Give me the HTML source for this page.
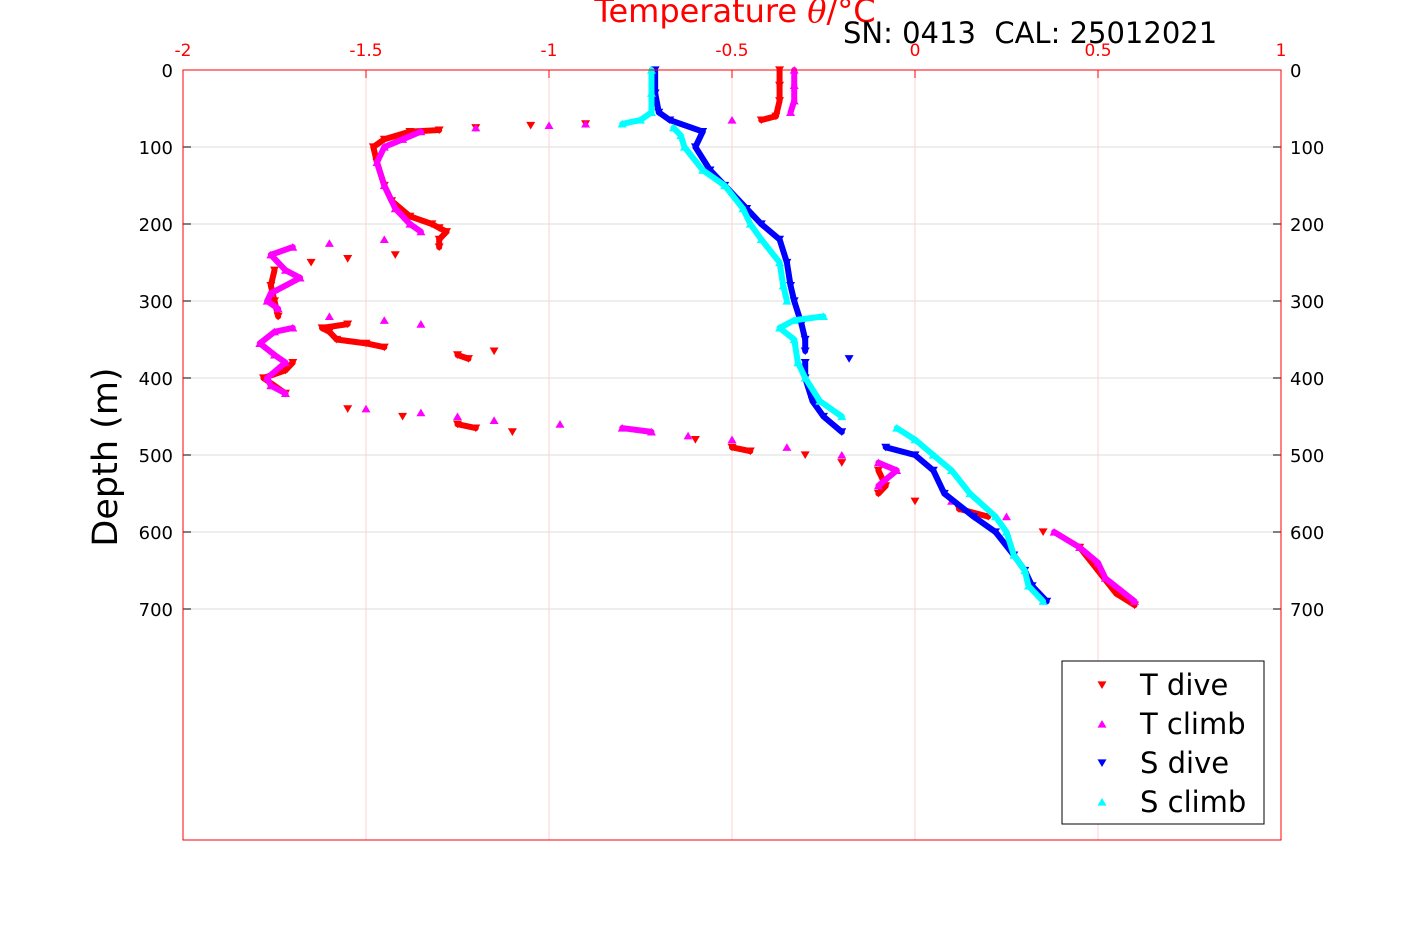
<!DOCTYPE html>
<html><head><meta charset="utf-8"><style>
body{margin:0;background:#fff;}
svg{display:block;font-family:"DejaVu Sans","Liberation Sans",sans-serif;}
</style></head><body>
<svg id="chart" width="1417" height="945" viewBox="0 0 1417 945" xmlns="http://www.w3.org/2000/svg">
<rect width="1417" height="945" fill="#fff"/>
<g id="grid"></g>
<g id="series"></g>
<g id="axes"></g>
<text x="735" y="22" font-size="32" fill="#ff0000" text-anchor="middle">Temperature <tspan font-style="italic" font-family="DejaVu Serif, serif">θ</tspan>/°C</text>
<text x="843" y="43" font-size="29" fill="#000" style="white-space:pre">SN: 0413  CAL: 25012021</text>
<text transform="translate(117,457) rotate(-90)" font-size="35" fill="#000" text-anchor="middle">Depth (m)</text>
<g id="legend"></g>
</svg>
<script>
const xTicks=[-2,-1.5,-1,-0.5,0,0.5,1];
const xTickLabels=["-2","-1.5","-1","-0.5","0","0.5","1"];
const yTicks=[0,100,200,300,400,500,600,700];
const tDiveDepth=[0,20,40,60,65,70,72,75,78,80,90,100,120,150,170,190,200,205,210,220,230,240,245,250,260,280,300,320,330,335,340,350,355,360,365,370,375,380,390,400,420,440,450,460,465,470,480,490,495,500,510,520,540,550,560,570,580,600,620,650,680,695];
const tDiveTemp=[-0.37,-0.37,-0.37,-0.38,-0.42,-0.9,-1.05,-1.2,-1.3,-1.38,-1.45,-1.48,-1.47,-1.45,-1.43,-1.38,-1.32,-1.3,-1.28,-1.3,-1.3,-1.42,-1.55,-1.65,-1.75,-1.76,-1.75,-1.74,-1.55,-1.62,-1.6,-1.58,-1.5,-1.45,-1.15,-1.25,-1.22,-1.7,-1.72,-1.78,-1.72,-1.55,-1.4,-1.25,-1.2,-1.1,-0.6,-0.5,-0.45,-0.3,-0.2,-0.1,-0.08,-0.1,0.0,0.12,0.2,0.35,0.45,0.5,0.55,0.6];
const tClimbDepth=[0,20,40,55,65,70,72,75,80,90,100,120,150,180,200,210,220,225,230,240,260,270,290,300,310,320,325,330,335,340,355,370,380,400,410,420,440,445,450,455,460,465,470,475,480,490,500,510,520,540,560,580,600,620,640,660,690];
const tClimbTemp=[-0.33,-0.33,-0.33,-0.34,-0.5,-0.9,-1.0,-1.2,-1.35,-1.4,-1.45,-1.47,-1.45,-1.42,-1.38,-1.35,-1.45,-1.6,-1.7,-1.76,-1.72,-1.68,-1.76,-1.77,-1.74,-1.6,-1.45,-1.35,-1.7,-1.75,-1.79,-1.75,-1.72,-1.77,-1.76,-1.72,-1.5,-1.35,-1.25,-1.15,-0.97,-0.8,-0.72,-0.62,-0.5,-0.35,-0.2,-0.1,-0.05,-0.1,0.1,0.25,0.38,0.45,0.5,0.52,0.6];
const sDiveDepth=[0,30,55,65,80,100,130,150,180,200,220,250,280,300,330,350,365,375,380,400,430,450,470,490,500,520,550,580,600,630,650,670,690];
const sDiveVal=[-0.71,-0.71,-0.7,-0.67,-0.58,-0.6,-0.56,-0.52,-0.46,-0.42,-0.37,-0.35,-0.34,-0.33,-0.31,-0.3,-0.3,-0.18,-0.3,-0.3,-0.28,-0.25,-0.2,-0.08,0.0,0.05,0.08,0.16,0.22,0.27,0.3,0.32,0.36];
const sClimbDepth=[0,30,55,65,70,75,85,100,130,150,180,200,220,250,280,300,320,325,335,350,380,400,430,450,465,480,500,520,550,580,600,630,650,670,690];
const sClimbVal=[-0.72,-0.72,-0.72,-0.75,-0.8,-0.66,-0.64,-0.63,-0.58,-0.52,-0.47,-0.45,-0.42,-0.37,-0.36,-0.35,-0.25,-0.33,-0.37,-0.33,-0.32,-0.3,-0.26,-0.2,-0.05,0.0,0.05,0.1,0.15,0.22,0.25,0.27,0.3,0.31,0.35];

const L=183,R=1281,T=70,B=840;
const xs=v=>L+(v-(-2))/3*(R-L);
const ys=d=>T+d/1000*(B-T);
const NS="http://www.w3.org/2000/svg";
function mk(tag,parent,attrs){const e=document.createElementNS(NS,tag);for(const k in attrs)e.setAttribute(k,attrs[k]);parent.appendChild(e);return e;}
const grid=document.getElementById('grid'),axes=document.getElementById('axes'),series=document.getElementById('series'),legend=document.getElementById('legend');
xTicks.forEach((v,i)=>{
  if(i>0&&i<xTicks.length-1){const g=mk('line',grid,{x1:xs(v),x2:xs(v),y1:T,y2:B,stroke:'#ffd0d0','stroke-width':1});
  
  }
  const t=mk('text',axes,{x:xs(v),y:T-14,'font-size':17,fill:'#ff0000','text-anchor':'middle'});
  t.textContent=xTickLabels[i];
  
  
  mk('line',axes,{x1:xs(v),x2:xs(v),y1:T,y2:T+8,stroke:'#ff0000'});
});
yTicks.forEach(v=>{
  if(v>0){const g=mk('line',grid,{x1:L,x2:R,y1:ys(v),y2:ys(v),stroke:'#dddddd','stroke-width':1});
  
  }
  const t=mk('text',axes,{x:L-10,y:ys(v)+7,'font-size':18,fill:'#000','text-anchor':'end'});t.textContent=v;
  
  
  const t2=mk('text',axes,{x:R+9,y:ys(v)+7,'font-size':18,fill:'#000'});t2.textContent=v;
  
  
  mk('line',axes,{x1:L,x2:L+8,y1:ys(v),y2:ys(v),stroke:'#000'});
  mk('line',axes,{x1:R-8,x2:R,y1:ys(v),y2:ys(v),stroke:'#000'});
});
const frame=mk('rect',axes,{x:L,y:T,width:R-L,height:B-T,fill:'none',stroke:'#ff0000','stroke-width':1});


function tri(x,y,down,s){return down?`${x-s},${y-s*0.8} ${x+s},${y-s*0.8} ${x},${y+s*0.9}`:`${x-s},${y+s*0.8} ${x+s},${y+s*0.8} ${x},${y-s*0.9}`;}
function draw(depths,vals,color,down,name){
  const g=mk('g',series,{});
  
  
  for(let i=1;i<depths.length;i++){
    const x1=xs(vals[i-1]),x2=xs(vals[i]),y1=ys(depths[i-1]),y2=ys(depths[i]);
    if(Math.abs(x2-x1)<35) mk('line',g,{x1:x1,y1:y1,x2:x2,y2:y2,stroke:color,'stroke-width':6,'stroke-linecap':'round'});
  }
  depths.forEach((d,i)=>{const p=mk('polygon',g,{points:tri(xs(vals[i]),ys(d),down,4.5),fill:color});
  
  });
}
draw(tDiveDepth,tDiveTemp,'#ff0000',true,'t-dive-series');
draw(tClimbDepth,tClimbTemp,'#ff00ff',false,'t-climb-series');
draw(sDiveDepth,sDiveVal,'#0000ff',true,'s-dive-series');
draw(sClimbDepth,sClimbVal,'#00ffff',false,'s-climb-series');
mk('rect',legend,{x:1062,y:661,width:202,height:163,fill:'#fff',stroke:'#000','stroke-width':1});
[['T dive','#ff0000',true],['T climb','#ff00ff',false],['S dive','#0000ff',true],['S climb','#00ffff',false]].forEach((e,i)=>{
  const y=685+i*39;
  const m=mk('polygon',legend,{points:tri(1102,y,e[2],4.5),fill:e[1]});
  
  
  const t=mk('text',legend,{x:1140,y:y+10,'font-size':29,fill:'#000'});t.textContent=e[0];
  
  
});
</script>
</body></html>
